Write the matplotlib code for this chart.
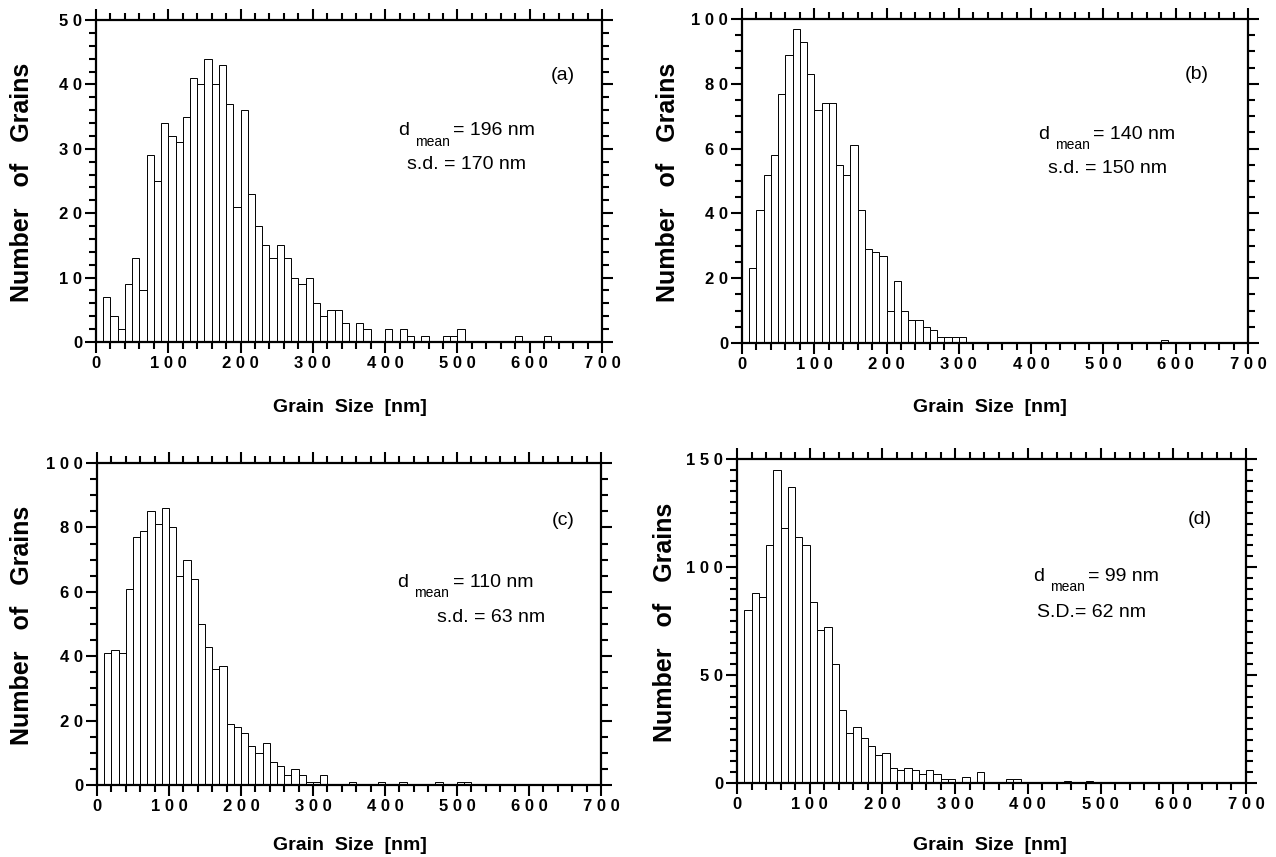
import numpy as np
import matplotlib
matplotlib.use('Agg')
import matplotlib.pyplot as plt
from matplotlib.ticker import MultipleLocator

plt.rcParams['font.family'] = ['Liberation Sans', 'DejaVu Sans']

# bin start (nm) -> number of grains, 10 nm bins
a_bins = [10, 20, 30, 40, 50, 60, 70, 80, 90, 100, 110, 120, 130, 140, 150, 160, 170, 180, 190, 200,
          210, 220, 230, 240, 250, 260, 270, 280, 290, 300, 310, 320, 330, 340, 360, 370, 400, 420,
          430, 450, 480, 490, 500, 580, 620]
a_counts = [7, 4, 2, 9, 13, 8, 29, 25, 34, 32, 31, 35, 41, 40, 44, 40, 43, 37, 21, 36,
            23, 18, 15, 13, 15, 13, 10, 9, 10, 6, 4, 5, 5, 3, 3, 2, 2, 2,
            1, 1, 1, 1, 2, 1, 1]

b_bins = [10, 20, 30, 40, 50, 60, 70, 80, 90, 100, 110, 120, 130, 140, 150, 160, 170, 180, 190, 200,
          210, 220, 230, 240, 250, 260, 270, 280, 290, 300, 580]
b_counts = [23, 41, 52, 58, 77, 89, 97, 93, 83, 72, 74, 74, 55, 52, 61, 41, 29, 28, 27, 10,
            19, 10, 7, 7, 5, 4, 2, 2, 2, 2, 1]

c_bins = [10, 20, 30, 40, 50, 60, 70, 80, 90, 100, 110, 120, 130, 140, 150, 160, 170, 180, 190, 200,
          210, 220, 230, 240, 250, 260, 270, 280, 290, 300, 310, 350, 390, 420, 470, 500, 510]
c_counts = [41, 42, 41, 61, 77, 79, 85, 81, 86, 80, 65, 70, 64, 50, 43, 36, 37, 19, 18, 16,
            12, 10, 13, 7, 6, 3, 5, 3, 1, 1, 3, 1, 1, 1, 1, 1, 1]

d_bins = [10, 20, 30, 40, 50, 60, 70, 80, 90, 100, 110, 120, 130, 140, 150, 160, 170, 180, 190, 200,
          210, 220, 230, 240, 250, 260, 270, 280, 290, 310, 330, 370, 380, 450, 480]
d_counts = [80, 88, 86, 110, 145, 118, 137, 114, 110, 84, 71, 72, 55, 34, 23, 26, 21, 17, 13, 14,
            7, 6, 7, 6, 4, 6, 4, 2, 2, 3, 5, 2, 2, 1, 1]

tags = ['(a)', '(b)', '(c)', '(d)']
d_means = ['= 196 nm', '= 140 nm', '= 110 nm', '= 99 nm']
sds = ['s.d. = 170 nm', 's.d. = 150 nm', 's.d. = 63 nm', 'S.D.= 62 nm']
y_max = [50, 100, 100, 150]
y_major = [10, 20, 20, 50]
y_minor = [2, 5, 5, 5]

W, H = 1276, 857
fig = plt.figure(figsize=(W / 100, H / 100), dpi=100)


def box(l, r, t, b):
    return [l / W, 1 - b / H, (r - l) / W, (b - t) / H]


rects = [box(96, 602, 20, 342), box(742, 1248, 19, 343),
         box(97, 601, 463, 785), box(737, 1246, 459, 783)]

# text placement (axes fraction): tag, d, mean, value, s.d.
tag_pos = [(0.923, 0.829), (0.899, 0.828), (0.925, 0.822), (0.909, 0.812)]
d_pos = [(0.597, 0.642), (0.586, 0.630), (0.596, 0.614), (0.581, 0.623)]
mean_pos = [(0.630, 0.609), (0.619, 0.599), (0.630, 0.583), (0.615, 0.593)]
val_pos = [(0.706, 0.642), (0.694, 0.630), (0.707, 0.614), (0.690, 0.623)]
sd_pos = [(0.615, 0.536), (0.604, 0.524), (0.675, 0.505), (0.589, 0.512)]

data = [(a_bins, a_counts), (b_bins, b_counts), (c_bins, c_counts), (d_bins, d_counts)]

for i in range(4):
    ax = fig.add_axes(rects[i])
    bins, counts = data[i]
    ax.bar(bins, counts, width=10, align='edge', color='white', edgecolor='black', linewidth=0.7)
    ax.set_xlim(0, 700)
    ax.set_ylim(0, y_max[i])
    for s in ax.spines.values():
        s.set_linewidth(1.6)
    ax.xaxis.set_major_locator(MultipleLocator(100))
    ax.xaxis.set_minor_locator(MultipleLocator(20))
    ax.yaxis.set_major_locator(MultipleLocator(y_major[i]))
    ax.yaxis.set_minor_locator(MultipleLocator(y_minor[i]))
    xt = np.arange(0, 701, 100)
    ax.set_xticks(xt)
    ax.set_xticklabels([' '.join(str(v)) for v in xt], fontweight='bold', fontsize=12)
    yt = np.arange(0, y_max[i] + 1, y_major[i])
    ax.set_yticks(yt)
    ax.set_yticklabels([' '.join(str(v)) for v in yt], fontweight='bold', fontsize=12)
    ax.tick_params(which='both', direction='out', top=True, right=True, width=1.5)
    ax.tick_params(axis='x', which='major', length=8, pad=2)
    ax.tick_params(axis='y', which='major', length=8, pad=2)
    ax.tick_params(which='minor', length=5)

    ax.text(*tag_pos[i], tags[i], transform=ax.transAxes, ha='center', va='center', fontsize=14)
    ax.text(*d_pos[i], 'd', transform=ax.transAxes, ha='left', va='baseline', fontsize=14)
    ax.text(*mean_pos[i], 'mean', transform=ax.transAxes, ha='left', va='baseline', fontsize=10)
    ax.text(*val_pos[i], d_means[i], transform=ax.transAxes, ha='left', va='baseline', fontsize=14)
    ax.text(*sd_pos[i], sds[i], transform=ax.transAxes, ha='left', va='baseline', fontsize=14)

# axis titles
for x, y in [(22, 182), (668, 182), (22, 625), (665, 622)]:
    fig.text(x / W, 1 - y / H, 'Number   of   Grains', rotation=90, ha='center', va='center',
             fontsize=18, fontweight='bold')
for x, y in [(350, 408), (990, 408), (350, 846), (990, 845)]:
    fig.text(x / W, 1 - y / H, 'Grain  Size  [nm]', ha='center', va='center',
             fontsize=14, fontweight='bold')

fig.savefig('out.png', dpi=100)
